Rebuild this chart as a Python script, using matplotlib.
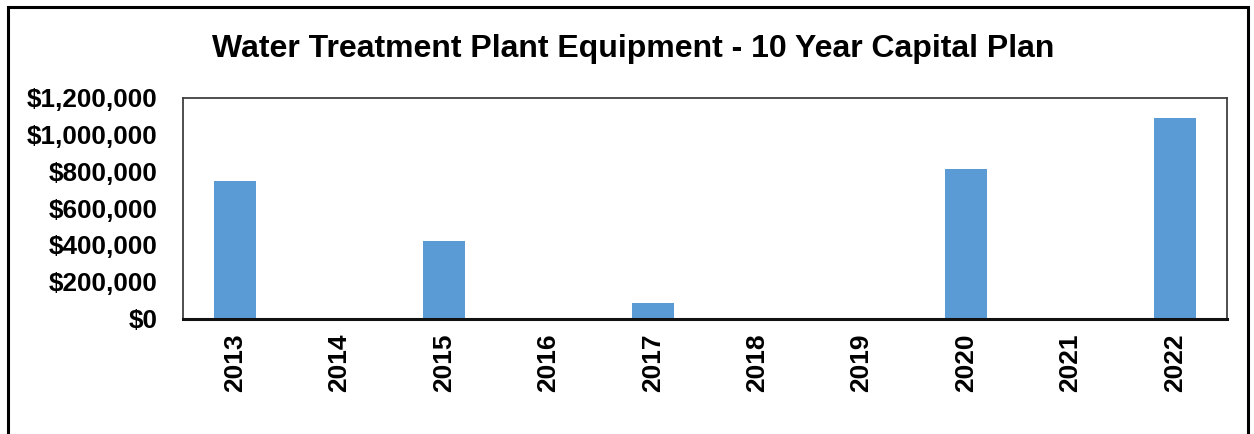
import matplotlib
matplotlib.use("Agg")
import matplotlib.pyplot as plt
from matplotlib.patches import Rectangle
from matplotlib.ticker import FuncFormatter

years = ["2013", "2014", "2015", "2016", "2017", "2018", "2019", "2020", "2021", "2022"]
capital = [745000, 0, 419000, 0, 84000, 0, 0, 812000, 0, 1089000]
y_ticks = [0, 200000, 400000, 600000, 800000, 1000000, 1200000]

plt.rcParams["font.family"] = ["Liberation Sans", "DejaVu Sans"]
plt.rcParams["font.weight"] = "bold"

fig = plt.figure(figsize=(12.54, 4.34), dpi=100)
ax = fig.add_axes([0.1459, 0.2661, 0.8326, 0.5092])

ax.bar(range(len(years)), capital, width=0.40, color="#5B9BD5")
ax.set_xlim(-0.5, len(years) - 0.5)
ax.set_ylim(0, 1200000)
ax.set_yticks(y_ticks)
ax.yaxis.set_major_formatter(FuncFormatter(lambda v, _: f"${v:,.0f}"))
ax.set_xticks(range(len(years)))
ax.set_xticklabels(years, rotation=90, fontsize=19, fontweight="bold")
for lbl in ax.get_yticklabels():
    lbl.set_fontsize(18.8)
    lbl.set_fontweight("bold")
ax.tick_params(length=0, pad=18.5, axis="y")
ax.tick_params(length=0, pad=11, axis="x")

for side in ("top", "left", "right"):
    ax.spines[side].set_color("#404040")
    ax.spines[side].set_linewidth(1.3)
ax.spines["bottom"].set_color("#111111")
ax.spines["bottom"].set_linewidth(2.2)

fig.text(0.505, 0.886, "Water Treatment Plant Equipment - 10 Year Capital Plan",
         ha="center", va="center", fontsize=23, fontweight="bold")

# outer chart border, open at the bottom edge
fig.patches.append(Rectangle((8 / 1254, -0.1), 1240 / 1254, 1.1 - 7 / 434,
                             transform=fig.transFigure, fill=False,
                             edgecolor="black", linewidth=2.2))

fig.savefig("out.png", dpi=100)
